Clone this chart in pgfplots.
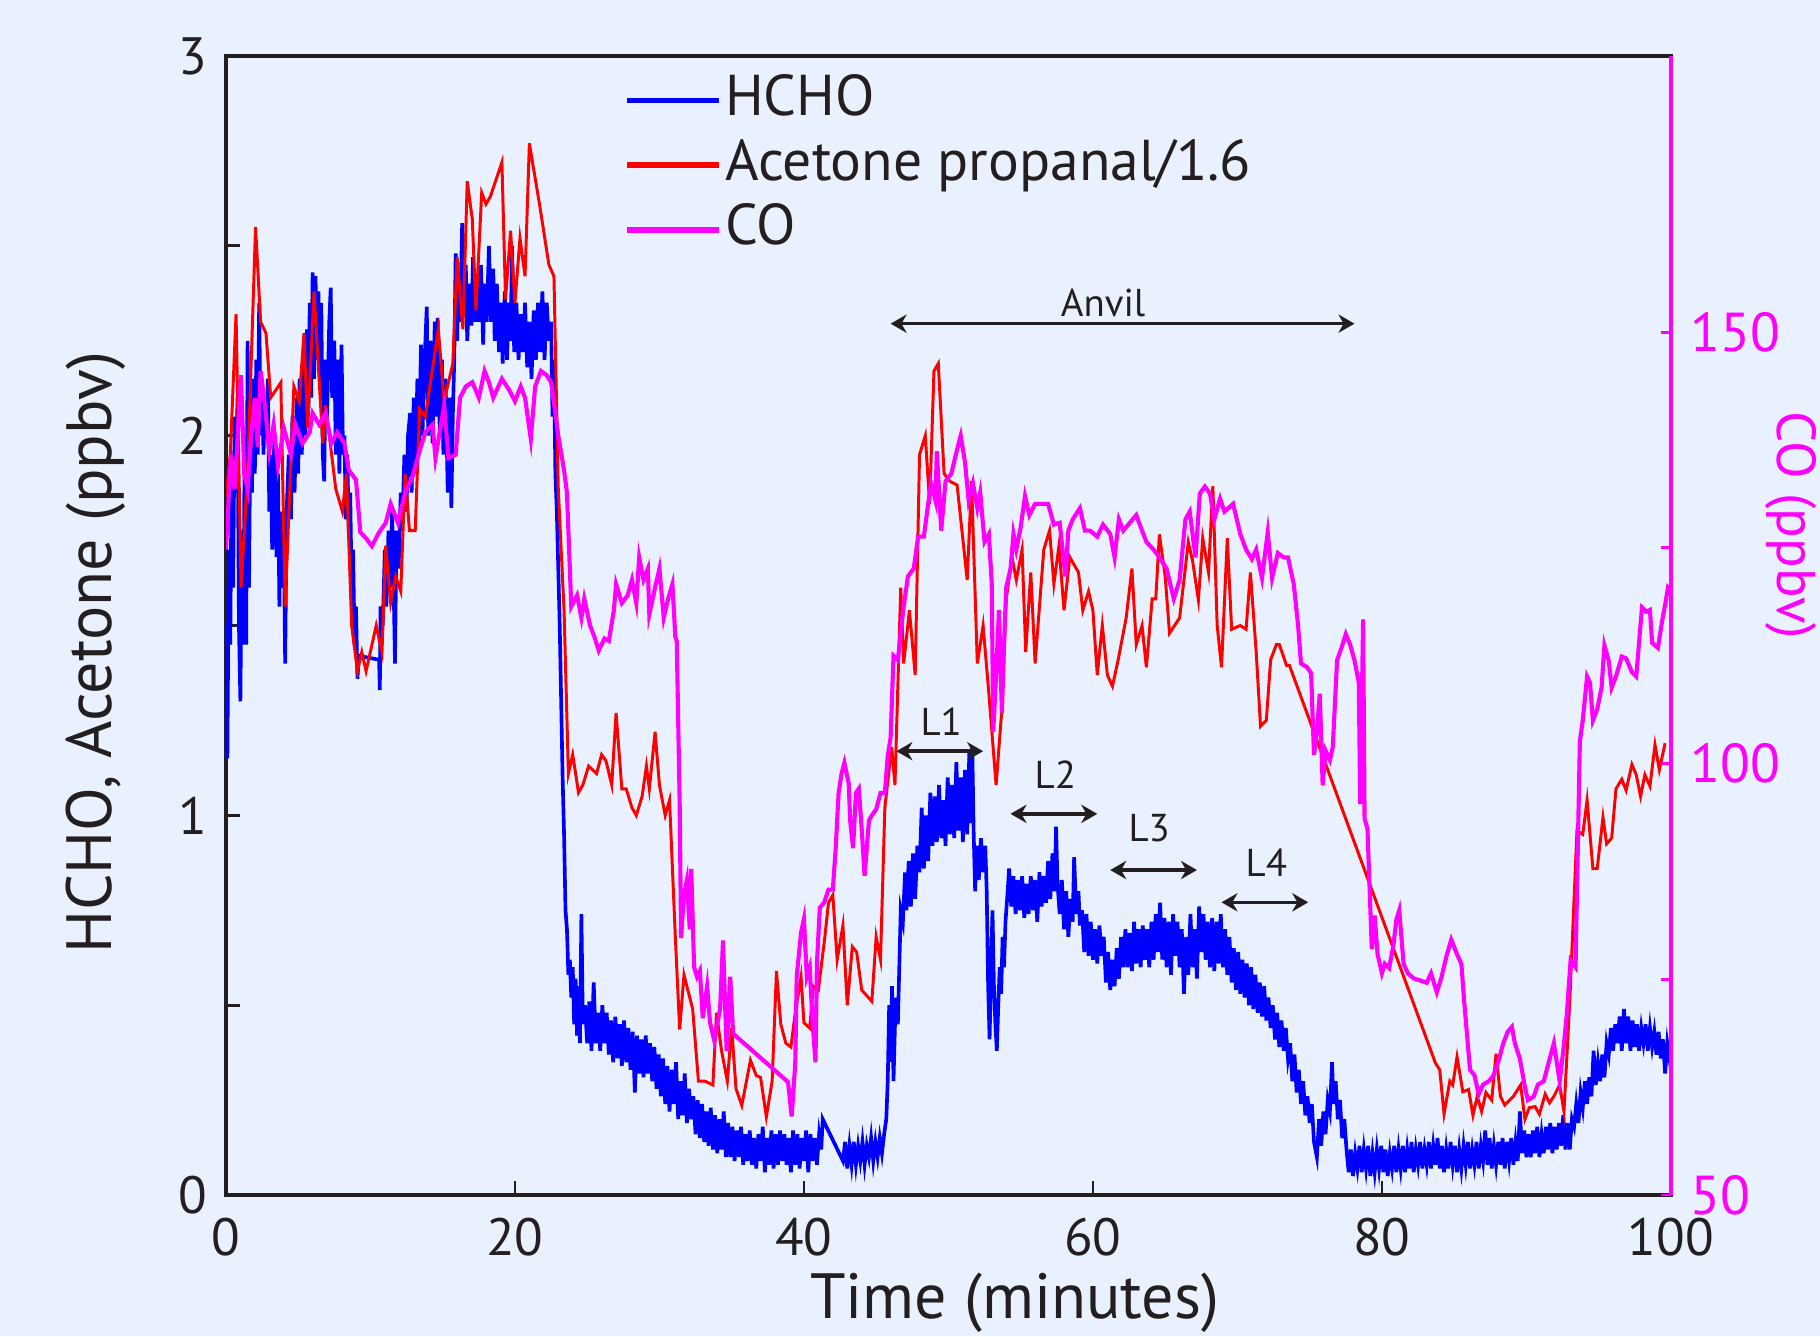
\documentclass[border=0pt]{standalone}
\usepackage{fontspec}
\setmainfont{PT Sans}
\usepackage{pgfplots}
\pgfplotsset{compat=1.18}
\usetikzlibrary{arrows.meta}

\definecolor{bg}{RGB}{232,241,253}
\definecolor{ink}{RGB}{35,31,32}
\definecolor{hcho}{RGB}{0,0,255}
\definecolor{acet}{RGB}{255,0,0}
\definecolor{co}{RGB}{255,0,255}

\begin{document}
\begin{tikzpicture}
\fill[bg] (-1.738,-1.085) rectangle (12.262,9.193);

% left axis: HCHO and acetone
\begin{axis}[
  at={(0,0)}, anchor=south west,
  width=11.115cm, height=8.762cm, scale only axis,
  xmin=0, xmax=100, ymin=0, ymax=3,
  xtick={0,20,40,60,80,100},
  ytick={0,0.5,1,1.5,2,2.5,3},
  yticklabels={0,{},1,{},2,{},3},
  xtick pos=left, ytick pos=left,
  tick align=inside, major tick length=0.11cm,
  axis line style={ink, line width=0.7pt},
  tick style={ink, line width=0.6pt},
  ticklabel style={ink, font=\fontsize{11.5}{12}\selectfont},
  xticklabel style={yshift=-0.05cm},
  yticklabel style={xshift=-0.02cm},
  /pgf/number format/assume math mode=true,
  legend style={at={(0.275,0.989)}, anchor=north west, draw=none, fill=none,
    font=\fontsize{12.6}{13}\selectfont, text=ink, inner sep=0pt, row sep=0.6pt,
    nodes={inner sep=0.6pt, text height=9.4pt, text depth=3pt}},
  legend cell align=left,
  legend image code/.code={\draw[#1, line width=1.3pt] (0cm,0cm) -- (0.71cm,0cm);},
]
\addplot[hcho, line width=0.8pt] coordinates {
(0,1.5)(0.1,1.15)(0.2,1.7)(0.3,1.45)(0.4,1.95)(0.5,1.6)(0.6,2.05)(0.7,1.85)(0.8,2.1)(0.9,1.5)(1.0,1.3)(1.1,1.75)(1.2,1.45)
(1.3,2.0)(1.4,1.45)(1.5,2.25)(1.6,1.6)(1.7,2.1)(1.8,1.85)(1.9,2.15)(2.0,1.9)(2.1,2.2)(2.2,1.95)(2.3,2.35)(2.4,2.0)
(2.5,2.15)(2.6,1.95)(2.7,2.1)(2.8,2.0)(2.9,2.15)(3.0,1.8)(3.1,1.95)(3.2,1.7)(3.35,2.0)(3.5,1.68)(3.6,1.9)(3.7,1.55)
(3.8,1.8)(3.9,1.6)(4.0,1.75)(4.1,1.4)(4.2,1.8)(4.35,1.95)(4.5,1.78)(4.6,2.05)(4.75,1.85)(4.9,2.1)(5.0,1.9)(5.1,2.15)
(5.25,1.95)(5.4,2.2)(5.5,2.0)(5.6,2.28)(5.7,2.05)(5.8,2.35)(5.9,2.1)(6.0,2.43)(6.1,2.15)(6.2,2.42)(6.3,2.2)(6.4,2.38)
(6.5,2.15)(6.6,2.35)(6.7,1.95)(6.8,1.88)(6.9,2.2)(7.0,2.05)(7.15,2.3)(7.25,2.39)(7.35,2.1)(7.5,2.25)(7.6,1.95)(7.75,2.2)
(7.85,1.9)(8.0,2.24)(8.1,1.95)(8.2,2.0)(8.3,1.78)(8.4,1.95)(8.5,1.75)(8.6,1.85)(8.7,1.6)(8.8,1.7)(8.9,1.45)(9.0,1.55)
(9.1,1.36)(9.2,1.42)(10.6,1.41)(10.65,1.33)(10.7,1.55)(10.85,1.5)(11.0,1.7)(11.1,1.55)(11.25,1.75)(11.4,1.6)(11.5,1.8)
(11.6,1.62)(11.7,1.4)(11.8,1.75)(11.95,1.65)(12.1,1.85)(12.2,1.75)(12.35,1.95)(12.5,1.8)(12.6,2.0)(12.75,2.06)(12.85,1.85)
(13.0,2.1)(13.1,1.9)(13.25,2.15)(13.35,1.95)(13.5,2.24)(13.6,2.0)(13.75,2.2)(13.9,2.34)(14.0,2.0)(14.15,2.25)(14.3,1.98)
(14.45,2.3)(14.55,2.05)(14.65,2.31)(14.8,2.0)(14.95,2.2)(15.05,1.95)(15.2,2.15)(15.35,1.85)(15.5,2.1)(15.6,1.81)(15.7,2.05)
(15.8,2.2)(15.9,2.48)(16.0,2.25)(16.1,2.4)(16.2,2.3)(16.35,2.56)(16.45,2.35)(16.6,2.45)(16.7,2.25)(16.85,2.4)(17.0,2.29)
(17.1,2.47)(17.25,2.3)(17.4,2.42)(17.5,2.3)(17.65,2.45)(17.8,2.24)(17.9,2.4)(18.05,2.3)(18.2,2.5)(18.35,2.3)(18.5,2.44)
(18.6,2.25)(18.75,2.4)(18.9,2.22)(19.05,2.35)(19.15,2.19)(19.3,2.38)(19.45,2.2)(19.6,2.35)(19.7,2.25)(19.8,2.5)(19.95,2.22)
(20.1,2.35)(20.25,2.2)(20.4,2.32)(20.55,2.22)(20.7,2.35)(20.85,2.18)(21.0,2.3)(21.15,2.15)(21.3,2.33)(21.45,2.2)(21.6,2.35)
(21.75,2.22)(21.9,2.38)(22.05,2.2)(22.2,2.35)(22.35,2.25)(22.5,2.3)(22.6,2.05)(22.7,2.2)(22.8,1.9)(22.9,1.8)(23.0,1.65)
(23.1,1.5)(23.2,1.3)(23.3,1.1)(23.4,0.95)(23.5,0.75)(23.6,0.7)(23.7,0.58)(23.8,0.62)(23.9,0.52)(24.0,0.6)(24.1,0.45)
(24.2,0.57)(24.3,0.42)(24.4,0.55)(24.5,0.4)(24.6,0.74)(24.7,0.45)(24.85,0.5)(25.0,0.4)(25.15,0.51)(25.3,0.38)(25.45,0.56)
(25.6,0.4)(25.75,0.48)(25.9,0.38)(26.05,0.5)(26.2,0.4)(26.35,0.48)(26.5,0.37)(26.65,0.46)(26.8,0.35)(26.95,0.47)(27.1,0.36)
(27.25,0.45)(27.4,0.34)(27.55,0.46)(27.7,0.35)(27.85,0.44)(28.0,0.33)(28.15,0.43)(28.3,0.27)(28.45,0.42)(28.6,0.32)(28.75,0.41)
(28.9,0.31)(29.05,0.42)(29.2,0.32)(29.35,0.4)(29.5,0.3)(29.65,0.39)(29.8,0.28)(29.95,0.37)(30.1,0.26)(30.25,0.36)(30.4,0.24)
(30.55,0.34)(30.7,0.22)(30.85,0.33)(31.0,0.24)(31.15,0.35)(31.3,0.2)(31.45,0.3)(31.6,0.21)(31.75,0.32)(31.9,0.19)(32.05,0.28)
(32.2,0.2)(32.35,0.26)(32.5,0.16)(32.65,0.25)(32.8,0.15)(32.95,0.24)(33.1,0.14)(33.25,0.22)(33.4,0.13)(33.55,0.23)(33.7,0.12)
(33.85,0.21)(34.0,0.11)(34.15,0.2)(34.3,0.12)(34.45,0.22)(34.6,0.1)(34.75,0.19)(34.9,0.1)(35.05,0.18)(35.2,0.09)(35.35,0.17)
(35.5,0.1)(35.65,0.18)(35.8,0.08)(35.95,0.16)(36.1,0.09)(36.25,0.17)(36.4,0.08)(36.55,0.15)(36.7,0.07)(36.85,0.16)(37.0,0.09)
(37.15,0.18)(37.3,0.06)(37.45,0.15)(37.6,0.08)(37.75,0.17)(37.9,0.07)(38.05,0.16)(38.2,0.08)(38.35,0.17)(38.5,0.09)(38.65,0.16)
(38.8,0.08)(38.95,0.15)(39.1,0.06)(39.25,0.17)(39.4,0.08)(39.55,0.16)(39.7,0.07)(39.85,0.15)(40.0,0.09)(40.15,0.17)(40.3,0.06)
(40.45,0.16)(40.6,0.09)(40.75,0.15)(40.9,0.08)(41.05,0.16)(41.2,0.12)(41.3,0.2)(42.7,0.09)(42.85,0.14)(43.0,0.07)(43.15,0.13)
(43.3,0.08)(43.45,0.14)(43.6,0.08)(43.75,0.13)(43.9,0.09)(44.05,0.14)(44.2,0.08)(44.35,0.13)(44.5,0.1)(44.65,0.15)(44.8,0.09)
(44.95,0.14)(45.1,0.1)(45.25,0.15)(45.4,0.11)(45.55,0.16)(45.7,0.2)(45.8,0.3)(45.9,0.5)(46.0,0.35)(46.1,0.55)(46.2,0.3)
(46.35,0.52)(46.5,0.45)(46.6,0.6)(46.7,0.75)(46.85,0.72)(47.0,0.85)(47.1,0.75)(47.25,0.88)(47.4,0.76)(47.55,0.9)(47.7,0.78)
(47.85,0.92)(48.0,0.85)(48.15,1.02)(48.3,0.86)(48.45,1.0)(48.6,0.88)(48.75,1.06)(48.9,0.92)(49.05,1.05)(49.2,0.93)(49.35,1.08)
(49.5,0.94)(49.65,1.04)(49.8,0.92)(49.95,1.1)(50.1,0.95)(50.25,1.08)(50.4,0.94)(50.55,1.14)(50.7,0.96)(50.85,1.1)(51.0,0.93)
(51.15,1.12)(51.3,0.95)(51.45,1.17)(51.55,0.98)(51.65,1.18)(51.75,0.95)(51.85,0.8)(51.95,0.92)(52.1,0.83)(52.25,0.94)(52.4,0.85)
(52.55,0.92)(52.65,0.8)(52.75,0.55)(52.85,0.41)(52.95,0.6)(53.05,0.75)(53.15,0.55)(53.25,0.45)(53.35,0.38)(53.45,0.5)(53.55,0.6)
(53.65,0.53)(53.75,0.68)(53.85,0.6)(53.95,0.72)(54.1,0.8)(54.2,0.86)(54.35,0.76)(54.5,0.84)(54.65,0.74)(54.8,0.83)(54.95,0.75)
(55.1,0.84)(55.25,0.73)(55.4,0.82)(55.55,0.74)(55.7,0.84)(55.85,0.75)(56.0,0.83)(56.15,0.72)(56.3,0.85)(56.45,0.76)(56.6,0.84)
(56.75,0.77)(56.9,0.88)(57.05,0.78)(57.2,0.9)(57.35,0.8)(57.45,0.97)(57.55,0.82)(57.7,0.74)(57.85,0.83)(58.0,0.7)(58.15,0.8)
(58.3,0.68)(58.45,0.78)(58.6,0.72)(58.7,0.89)(58.85,0.74)(59.0,0.8)(59.1,0.71)(59.25,0.75)(59.4,0.64)(59.55,0.74)(59.7,0.63)
(59.85,0.72)(60.0,0.62)(60.15,0.7)(60.3,0.61)(60.45,0.71)(60.6,0.63)(60.75,0.68)(60.9,0.56)(61.05,0.64)(61.2,0.54)(61.35,0.62)
(61.5,0.55)(61.65,0.65)(61.8,0.57)(61.95,0.68)(62.1,0.6)(62.25,0.7)(62.4,0.6)(62.55,0.69)(62.7,0.59)(62.85,0.72)(63.0,0.61)
(63.15,0.7)(63.3,0.6)(63.45,0.71)(63.6,0.62)(63.75,0.7)(63.9,0.6)(64.05,0.72)(64.2,0.62)(64.35,0.74)(64.5,0.64)(64.65,0.77)
(64.8,0.62)(64.95,0.73)(65.1,0.6)(65.25,0.72)(65.4,0.58)(65.55,0.74)(65.7,0.63)(65.85,0.72)(66.0,0.6)(66.15,0.7)(66.3,0.53)
(66.45,0.68)(66.6,0.58)(66.75,0.74)(66.9,0.6)(67.05,0.7)(67.2,0.57)(67.35,0.76)(67.5,0.64)(67.65,0.74)(67.8,0.62)(67.95,0.72)
(68.1,0.6)(68.25,0.73)(68.4,0.59)(68.55,0.72)(68.7,0.61)(68.85,0.74)(69.0,0.6)(69.15,0.7)(69.3,0.58)(69.45,0.68)(69.6,0.56)
(69.75,0.65)(69.9,0.54)(70.05,0.64)(70.2,0.53)(70.35,0.62)(70.5,0.52)(70.65,0.61)(70.8,0.5)(70.95,0.6)(71.1,0.49)(71.25,0.58)
(71.4,0.48)(71.55,0.56)(71.7,0.47)(71.85,0.55)(72.0,0.46)(72.15,0.52)(72.3,0.44)(72.45,0.5)(72.6,0.41)(72.75,0.48)(72.9,0.39)
(73.05,0.46)(73.2,0.38)(73.35,0.44)(73.5,0.36)(73.65,0.4)(73.8,0.3)(73.95,0.37)(74.1,0.27)(74.25,0.33)(74.4,0.24)(74.55,0.3)
(74.7,0.21)(74.85,0.26)(75.0,0.19)(75.15,0.24)(75.3,0.14)(75.5,0.1)(75.65,0.2)(75.8,0.13)(75.95,0.22)(76.1,0.16)(76.25,0.25)
(76.4,0.22)(76.55,0.35)(76.65,0.24)(76.8,0.3)(76.95,0.2)(77.1,0.25)(77.25,0.15)(77.4,0.2)(77.55,0.12)(77.7,0.06)(77.85,0.12)
(78.0,0.05)(78.15,0.11)(78.3,0.07)(78.45,0.13)(78.6,0.06)(78.75,0.12)(78.9,0.07)(79.05,0.13)(79.2,0.05)(79.35,0.11)(79.5,0.06)
(79.65,0.12)(79.8,0.07)(79.95,0.13)(80.1,0.06)(80.25,0.12)(80.4,0.05)(80.55,0.11)(80.7,0.07)(80.85,0.13)(81.0,0.06)(81.15,0.12)
(81.3,0.07)(81.45,0.13)(81.6,0.06)(81.75,0.12)(81.9,0.07)(82.05,0.14)(82.2,0.06)(82.35,0.12)(82.5,0.08)(82.65,0.14)(82.8,0.07)
(82.95,0.12)(83.1,0.08)(83.25,0.14)(83.4,0.07)(83.55,0.13)(83.7,0.08)(83.85,0.15)(84.0,0.07)(84.15,0.13)(84.3,0.06)(84.45,0.12)
(84.6,0.07)(84.75,0.14)(84.9,0.08)(85.05,0.13)(85.2,0.06)(85.35,0.12)(85.5,0.07)(85.65,0.13)(85.8,0.08)(85.95,0.14)(86.1,0.07)
(86.25,0.12)(86.4,0.08)(86.55,0.14)(86.7,0.07)(86.85,0.13)(87.0,0.09)(87.15,0.17)(87.3,0.08)(87.45,0.15)(87.6,0.07)(87.75,0.13)
(87.9,0.08)(88.05,0.14)(88.2,0.08)(88.35,0.15)(88.5,0.07)(88.65,0.14)(88.8,0.09)(88.95,0.15)(89.1,0.08)(89.25,0.14)(89.4,0.09)
(89.55,0.22)(89.7,0.11)(89.85,0.17)(90.0,0.1)(90.15,0.16)(90.3,0.1)(90.45,0.17)(90.6,0.11)(90.75,0.18)(90.9,0.1)(91.05,0.16)
(91.2,0.11)(91.35,0.18)(91.5,0.12)(91.65,0.19)(91.8,0.11)(91.95,0.18)(92.1,0.12)(92.25,0.19)(92.4,0.13)(92.55,0.21)(92.7,0.12)
(92.85,0.19)(93.0,0.12)(93.15,0.2)(93.3,0.18)(93.45,0.24)(93.6,0.19)(93.75,0.27)(93.9,0.23)(94.05,0.3)(94.2,0.24)(94.35,0.31)
(94.5,0.26)(94.65,0.38)(94.8,0.29)(94.95,0.35)(95.1,0.3)(95.25,0.37)(95.4,0.31)(95.55,0.4)(95.7,0.37)(95.85,0.44)(96.0,0.38)
(96.15,0.45)(96.3,0.4)(96.45,0.47)(96.6,0.38)(96.75,0.49)(96.9,0.4)(97.05,0.47)(97.2,0.38)(97.35,0.46)(97.5,0.39)(97.65,0.45)
(97.8,0.38)(97.95,0.44)(98.1,0.4)(98.25,0.45)(98.4,0.38)(98.55,0.44)(98.7,0.39)(98.85,0.43)(99.0,0.37)(99.15,0.43)(99.3,0.36)
(99.45,0.41)(99.6,0.32)(99.75,0.4)(99.9,0.36)(100,0.38)
};
\addlegendentry{HCHO}
\addplot[acet, line width=0.65pt] coordinates {
(0,1.84)(0.3,1.95)(0.7,2.32)(1.05,1.6)(1.5,1.9)(2.05,2.55)(2.4,2.3)(2.77,2.27)(3.1,2.1)(3.8,2.14)(4.1,1.55)(4.7,2.13)
(5.07,2.09)(5.4,2.27)(5.65,2.02)(6.1,2.38)(6.7,1.98)(6.9,2.08)(7.6,1.86)(8.06,1.8)(8.34,1.9)(8.7,1.5)(9.1,1.38)(9.4,1.43)
(9.7,1.38)(10.4,1.5)(10.8,1.43)(11.06,1.71)(11.4,1.56)(11.75,1.63)(12.1,1.59)(12.4,1.9)(12.7,1.75)(13.1,1.75)(13.4,2.07)
(13.8,2.05)(14.7,2.28)(15.1,2.09)(15.7,2.19)(16.0,2.47)(16.4,2.28)(16.7,2.67)(17.05,2.57)(17.3,2.33)(17.7,2.64)(18.0,2.61)
(18.3,2.63)(19.1,2.72)(19.35,2.36)(19.7,2.54)(20.0,2.35)(20.35,2.52)(20.7,2.42)(21.0,2.77)(21.7,2.61)(22.35,2.45)(22.7,2.42)
(23.0,1.86)(23.4,1.54)(23.7,1.11)(24.0,1.16)(24.4,1.06)(24.7,1.08)(25.1,1.13)(25.65,1.11)(26.0,1.16)(26.3,1.144)(26.7,1.08)
(27.0,1.27)(27.4,1.07)(27.7,1.07)(28.1,1.02)(28.4,1.0)(28.8,1.05)(29.1,1.13)(29.3,1.07)(29.7,1.22)(30.0,1.08)(30.4,1.0)
(30.7,1.04)(31.1,0.68)(31.4,0.436)(31.7,0.58)(32.3,0.49)(32.7,0.30)(33.15,0.30)(33.7,0.29)(33.95,0.48)(34.3,0.38)(34.7,0.30)
(35.0,0.44)(35.3,0.28)(35.7,0.236)(36.3,0.355)(36.7,0.315)(37.0,0.31)(37.4,0.206)(37.8,0.30)(38.1,0.59)(38.4,0.45)(38.75,0.40)
(39.1,0.39)(39.4,0.48)(39.8,0.575)(40.0,0.454)(40.4,0.44)(40.65,0.55)(41.0,0.54)(41.45,0.68)(41.7,0.77)(42.0,0.79)(42.3,0.62)
(42.7,0.71)(43.0,0.50)(43.35,0.654)(43.65,0.64)(44.0,0.54)(44.7,0.51)(45.0,0.68)(45.3,0.62)(45.6,1.02)(46.07,1.18)(46.3,1.08)
(46.7,1.6)(46.9,1.40)(47.3,1.54)(47.7,1.37)(48.0,1.95)(48.4,2.0)(48.7,1.82)(49.0,2.17)(49.3,2.19)(49.7,1.90)(50.1,1.88)
(50.6,1.87)(51.3,1.62)(51.6,1.88)(52.0,1.40)(52.4,1.50)(52.8,1.32)(53.3,1.08)(53.7,1.28)(54.0,1.57)(54.4,1.68)(54.7,1.62)
(55.1,1.70)(55.35,1.43)(55.7,1.64)(56.0,1.40)(56.6,1.70)(57.0,1.75)(57.3,1.61)(57.65,1.71)(58.0,1.54)(58.4,1.68)(59.0,1.64)
(59.3,1.54)(59.7,1.59)(60.0,1.54)(60.3,1.37)(60.65,1.50)(61.0,1.37)(61.35,1.34)(61.75,1.41)(62.3,1.52)(62.7,1.65)(63.0,1.45)
(63.4,1.50)(63.7,1.39)(64.1,1.57)(64.35,1.57)(64.6,1.74)(65.0,1.63)(65.3,1.48)(66.0,1.52)(66.6,1.72)(66.9,1.67)(67.3,1.567)
(67.6,1.73)(68.0,1.64)(68.3,1.867)(68.6,1.50)(68.9,1.39)(69.3,1.73)(69.6,1.49)(70.2,1.50)(70.6,1.49)(70.9,1.64)(71.3,1.43)
(71.6,1.235)(72.0,1.25)(72.3,1.41)(72.7,1.45)(72.9,1.45)(73.4,1.395)(73.6,1.395)(83.7,0.348)(84.0,0.33)(84.3,0.214)(84.7,0.30)
(84.9,0.29)(85.2,0.364)(85.6,0.272)(86.0,0.278)(86.3,0.21)(86.6,0.26)(86.9,0.22)(87.2,0.27)(87.6,0.25)(87.9,0.372)(88.2,0.26)
(88.5,0.237)(89.1,0.26)(89.6,0.29)(89.9,0.20)(90.2,0.23)(90.6,0.233)(90.9,0.213)(91.3,0.266)(91.6,0.243)(91.9,0.26)(92.3,0.29)
(92.6,0.22)(93.0,0.51)(93.5,0.96)(93.9,0.95)(94.2,1.04)(94.6,0.86)(94.9,0.86)(95.3,0.995)(95.55,0.925)(95.9,0.94)(96.2,1.07)
(96.6,1.095)(96.9,1.066)(97.3,1.134)(97.6,1.107)(97.9,1.05)(98.2,1.107)(98.55,1.077)(98.9,1.186)(99.2,1.12)(99.6,1.19)
};
\addlegendentry{Acetone propanal/1.6}
\addlegendimage{co, line width=1.3pt}
\addlegendentry{CO}

% flight-leg annotations
\draw[ink, line width=0.75pt, {Stealth[length=3.5pt,width=4pt]}-{Stealth[length=3.5pt,width=4pt]}] (axis cs:46.0,2.295) -- (axis cs:78.1,2.295);
\node[ink, font=\fontsize{8.5}{9}\selectfont, anchor=base] at (axis cs:60.7,2.315) {Anvil};
\draw[ink, line width=0.75pt, {Stealth[length=3.5pt,width=4pt]}-{Stealth[length=3.5pt,width=4pt]}] (axis cs:46.4,1.169) -- (axis cs:52.4,1.169);
\node[ink, font=\fontsize{8.5}{9}\selectfont, anchor=base] at (axis cs:49.5,1.21) {L1};
\draw[ink, line width=0.75pt, {Stealth[length=3.5pt,width=4pt]}-{Stealth[length=3.5pt,width=4pt]}] (axis cs:54.3,1.004) -- (axis cs:60.3,1.004);
\node[ink, font=\fontsize{8.5}{9}\selectfont, anchor=base] at (axis cs:57.4,1.07) {L2};
\draw[ink, line width=0.75pt, {Stealth[length=3.5pt,width=4pt]}-{Stealth[length=3.5pt,width=4pt]}] (axis cs:61.2,0.856) -- (axis cs:67.2,0.856);
\node[ink, font=\fontsize{8.5}{9}\selectfont, anchor=base] at (axis cs:63.9,0.93) {L3};
\draw[ink, line width=0.75pt, {Stealth[length=3.5pt,width=4pt]}-{Stealth[length=3.5pt,width=4pt]}] (axis cs:68.9,0.771) -- (axis cs:74.9,0.771);
\node[ink, font=\fontsize{8.5}{9}\selectfont, anchor=base] at (axis cs:72.0,0.839) {L4};
\end{axis}

% right axis: CO
\begin{axis}[
  at={(0,0)}, anchor=south west,
  width=11.115cm, height=8.762cm, scale only axis,
  xmin=0, xmax=100, ymin=50, ymax=182,
  axis x line=none, axis y line*=right,
  ytick={50,75,100,125,150},
  yticklabels={50,{},100,{},150},
  tick align=inside, major tick length=0.08cm,
  y axis line style={co, line width=1pt},
  ytick style={co, line width=0.6pt},
  yticklabel style={co, font=\fontsize{12}{12}\selectfont, xshift=0.03cm},
]
\addplot[co, line width=0.9pt] coordinates {
(0.0,124.8)(0.35,135.8)(0.6,131.8)(0.8,137.6)(1.04,145.0)(1.27,133.6)(1.5,131.8)(1.73,137.6)(2.0,142.4)(2.2,136.7)
(2.4,145.5)(2.7,141.5)(3.0,136.2)(3.3,139.3)(3.6,134.5)(4.0,138.9)(4.5,135.8)(4.8,139.3)(5.3,137.1)(5.8,138.4)(6.0,140.6)
(6.45,139.3)(6.9,140.6)(7.3,137.1)(7.7,138.4)(8.2,137.1)(8.5,134.0)(9.0,132.9)(9.3,126.8)(9.7,126.1)(10.1,125.2)(10.6,126.8)
(11.06,127.9)(11.4,130.1)(11.9,127.9)(12.4,131.4)(12.9,133.2)(13.4,136.2)(13.8,138.4)(14.3,139.3)(14.5,135.4)(15.1,141.5)
(15.4,135.4)(15.9,135.8)(16.2,142.4)(16.6,143.7)(17.05,144.2)(17.5,142.4)(17.9,145.5)(18.2,144.2)(18.5,142.4)(19.1,144.6)
(19.6,143.3)(20.0,142.0)(20.4,143.7)(20.7,142.4)(21.1,137.6)(21.4,143.7)(21.8,145.5)(22.2,145.0)(22.5,144.2)(22.8,140.6)
(23.0,138.0)(23.4,134.0)(23.6,131.4)(23.9,118.2)(24.3,119.5)(24.6,116.9)(24.8,119.1)(25.2,116.0)(25.5,114.7)(25.8,113.1)
(26.2,114.5)(26.5,114.2)(26.85,117.8)(27.0,120.8)(27.4,118.6)(27.8,119.5)(28.1,121.3)(28.4,118.6)(28.6,123.9)(28.9,121.3)
(29.2,122.6)(29.3,117.3)(29.7,120.4)(30.0,122.6)(30.3,116.9)(30.6,119.1)(30.9,120.8)(31.1,114.7)(31.2,114.2)(31.4,95.5)
(31.5,79.8)(31.7,84.8)(31.9,86.5)(32.1,80.8)(32.2,87.8)(32.4,76.4)(32.6,75.3)(32.8,76.0)(33.0,70.5)(33.3,74.2)(33.5,70.0)
(33.8,67.9)(34.2,71.6)(34.4,79.5)(34.65,66.7)(34.9,75.3)(35.1,68.7)(38.9,63.1)(39.15,59.1)(39.4,65.2)(39.5,75.3)(39.8,80.4)
(40.0,82.0)(40.2,75.3)(40.4,76.4)(40.6,70.0)(40.8,65.4)(40.9,76.8)(41.1,83.3)(41.4,83.9)(41.7,85.4)(42.0,85.4)(42.2,90.2)
(42.4,96.6)(42.6,98.8)(42.8,100.1)(43.1,97.7)(43.2,93.4)(43.4,90.2)(43.6,96.6)(43.8,97.1)(44.0,92.4)(44.2,87.0)(44.5,93.4)
(44.7,94.0)(45.0,94.7)(45.3,96.6)(45.6,96.6)(45.8,100.9)(46.0,103.0)(46.2,112.5)(46.5,112.0)(46.9,118.2)(47.2,121.7)
(47.6,122.6)(47.9,126.3)(48.3,126.3)(48.6,130.1)(48.8,132.5)(49.1,130.5)(49.2,136.2)(49.5,127.0)(49.8,132.7)(50.2,133.6)
(50.6,136.4)(50.85,138.0)(51.15,134.9)(51.4,130.5)(51.7,132.5)(52.0,129.6)(52.2,131.4)(52.5,125.7)(52.8,126.6)(53.0,120.8)
(53.1,103.7)(53.3,110.3)(53.5,117.8)(53.7,105.9)(53.85,113.8)(54.0,120.4)(54.3,122.6)(54.5,126.6)(54.7,124.8)(55.0,127.4)
(55.3,131.0)(55.6,128.8)(56.0,130.1)(56.45,130.1)(56.9,130.1)(57.3,127.7)(57.7,127.9)(58.1,121.7)(58.3,127.0)(58.6,128.3)
(59.1,129.6)(59.45,127.0)(59.8,127.0)(60.3,126.3)(60.7,127.7)(61.2,126.6)(61.5,123.9)(61.8,128.3)(62.1,127.0)(63.0,128.8)
(63.4,127.0)(63.7,125.7)(64.2,124.8)(64.6,123.9)(65.1,122.6)(65.6,119.1)(66.0,121.3)(66.4,128.3)(66.7,129.2)(67.1,123.9)
(67.4,131.3)(67.75,132.1)(68.1,131.3)(68.4,128.3)(68.8,130.7)(69.1,129.2)(69.7,130.1)(70.2,126.6)(70.6,124.8)(71.0,123.7)
(71.3,124.8)(71.7,121.5)(72.1,126.8)(72.4,121.5)(72.8,124.4)(73.2,123.9)(73.5,123.9)(73.9,120.8)(74.2,116.0)(74.4,111.6)
(74.8,111.2)(75.1,110.5)(75.3,101.0)(75.5,103.7)(75.7,108.1)(75.9,97.5)(76.1,101.5)(76.4,100.4)(76.6,101.9)(76.9,112.0)
(77.2,113.4)(77.5,115.0)(77.8,113.8)(78.1,112.0)(78.4,109.4)(78.5,95.3)(78.7,116.7)(78.8,93.6)(79.0,92.5)(79.3,78.5)
(79.5,82.4)(79.7,77.9)(80.0,75.7)(80.2,76.8)(80.5,76.3)(80.8,79.0)(81.0,81.9)(81.2,83.0)(81.5,76.8)(81.8,75.7)(82.2,75.1)
(82.6,74.9)(83.1,74.6)(83.4,75.7)(83.8,73.5)(84.1,75.1)(84.5,77.9)(84.8,79.6)(85.2,77.9)(85.5,76.8)(85.7,72.3)(86.1,64.5)
(86.4,63.9)(86.7,61.7)(87.0,62.8)(87.4,63.2)(87.7,63.8)(88.05,65.4)(88.4,67.6)(88.7,68.9)(89.0,69.5)(89.2,67.6)(89.55,65.8)
(89.9,62.5)(90.1,61.0)(90.5,61.4)(90.8,62.8)(91.2,63.2)(91.5,65.1)(91.9,67.6)(92.1,65.4)(92.3,63.2)(92.55,66.7)(92.8,71.0)
(93.06,77.2)(93.4,76.4)(93.7,102.6)(93.9,105.0)(94.2,110.1)(94.4,109.4)(94.6,105.0)(94.9,106.3)(95.2,108.8)(95.4,113.7)
(95.7,111.9)(95.9,108.8)(96.2,110.1)(96.6,112.4)(96.9,112.2)(97.3,110.6)(97.6,110.1)(98.0,118.1)(98.3,117.6)(98.55,117.8)
(98.7,114.0)(99.1,113.4)(99.4,116.6)(99.6,118.4)(99.8,120.4)(100,120.0)
};
\end{axis}

\node[ink, font=\fontsize{14}{14}\selectfont, anchor=base] at (6.066,-0.95) {Time (minutes)};
\node[ink, font=\fontsize{14}{14}\selectfont, rotate=90, anchor=base] at (-0.88,4.17) {HCHO, Acetone (ppbv)};
\node[co, font=\fontsize{12}{12}\selectfont, rotate=-90, anchor=base] at (11.938,5.154) {CO (ppbv)};

\pgfresetboundingbox
\useasboundingbox (-1.738,-1.085) rectangle (12.262,9.193);
\end{tikzpicture}
\end{document}
